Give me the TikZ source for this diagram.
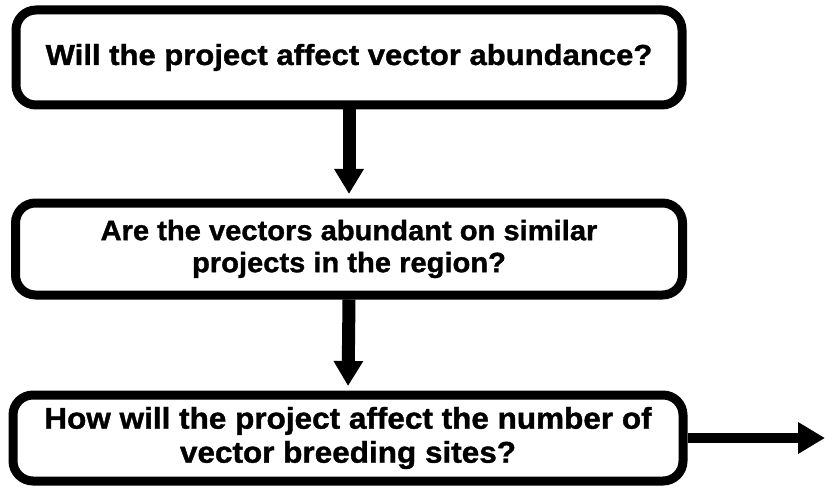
\documentclass[tikz,border=0pt]{standalone}
\usepackage{fontspec}
\newfontfamily\boxfontA{Liberation Sans}[FakeStretch=1.07,FakeBold=1.2]
\newfontfamily\boxfontB{Liberation Sans}[FakeStretch=1.04,FakeBold=1.2]
\newfontfamily\boxfontC{Liberation Sans}[FakeStretch=1.05,FakeBold=1.2]
\usetikzlibrary{arrows.meta}
\tikzset{
  qbox/.style={draw=black, line width=9pt, rounded corners=20pt, fill=white,
    align=center, inner sep=0pt},
  vconn/.style={line width=13pt, -{Triangle[length=25pt,width=28pt]}, shorten >=4.5pt},
  hconn/.style={line width=10pt, -{Triangle[length=27pt,width=30pt]}}
}
\begin{document}
\begin{tikzpicture}[x=1pt,y=-1pt]
\useasboundingbox (0,0) rectangle (825,492);
\node[qbox, minimum width=666pt, minimum height=95pt,
  font=\boxfontA\bfseries\fontsize{29}{34}\selectfont] (b1) at (349,57.5)
  {Will the project affect vector abundance?};
\node[qbox, minimum width=667pt, minimum height=92pt,
  font=\boxfontB\bfseries\fontsize{28}{32}\selectfont] (b2) at (349,249)
  {Are the vectors abundant on similar\\projects in the region?};
\node[qbox, minimum width=670pt, minimum height=86pt,
  font=\boxfontC\bfseries\fontsize{30}{34}\selectfont] (b3) at (348,438)
  {How will the project affect the number of\\vector breeding sites?};
\coordinate (out) at (825,438);
\draw[vconn] (b1.south) -- (b2.north);
\draw[vconn] (b2.south) -- (b3.north);
\draw[hconn] (b3.east) -- (out);
\end{tikzpicture}
\end{document}
